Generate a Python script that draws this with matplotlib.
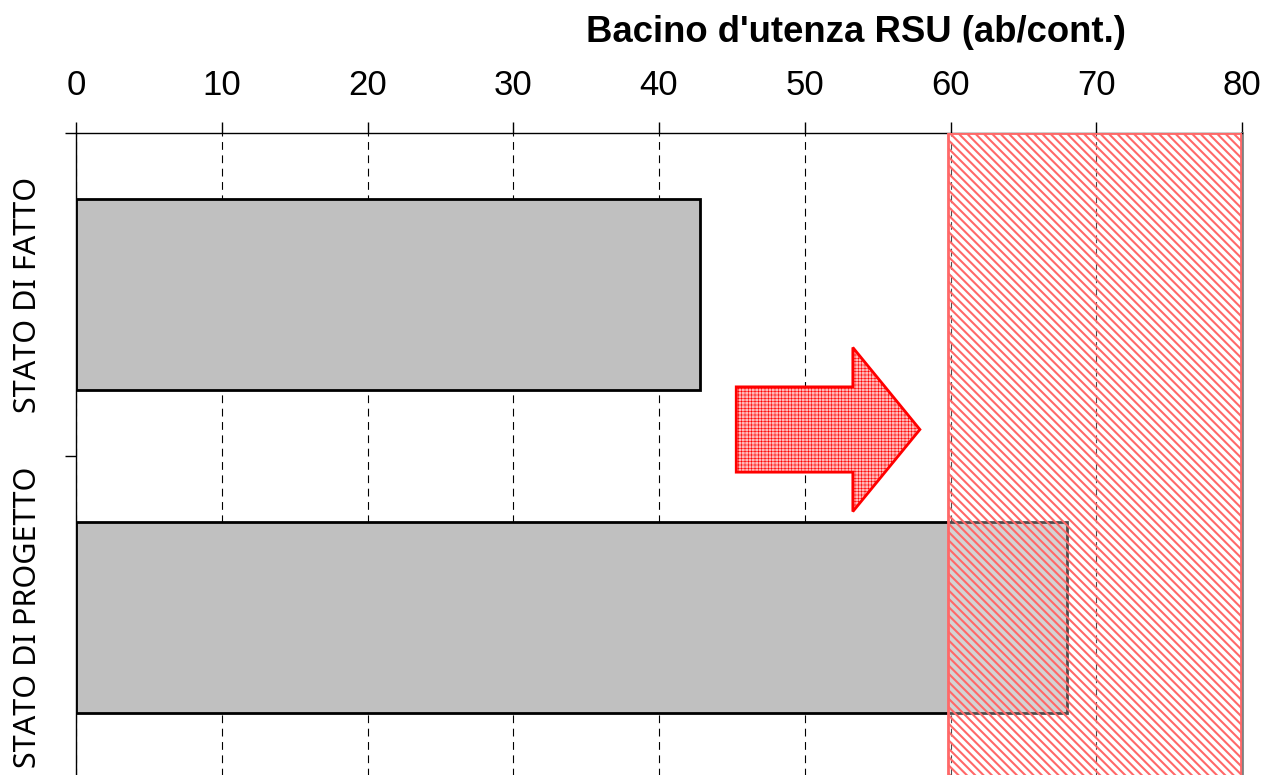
import matplotlib.pyplot as plt
from matplotlib.patches import FancyArrow, Rectangle

"""Bacino d'utenza RSU: stato di fatto vs stato di progetto"""

categories = ['STATO DI FATTO', 'STATO DI PROGETTO']
values = [42.8, 68.0]
x_ticks = [0, 10, 20, 30, 40, 50, 60, 70, 80]
target_range = [59.8, 79.9]   # red hatched band
arrow_from, arrow_to = 45.3, 57.9
arrow_y = 0.418

fig = plt.figure(figsize=(12.67, 7.75), dpi=100)
ax = fig.add_axes([76 / 1267, -4 / 775, 1166 / 1267, 646 / 775])

ypos = list(range(len(categories)))
ax.barh(ypos, values, height=0.59, color='#c0c0c0', edgecolor='black',
        linewidth=2, zorder=2)

# red hatched band, drawn over the bars
band = Rectangle((target_range[0], -0.5), target_range[1] - target_range[0], 2.0,
                 facecolor=(1, 1, 1, 0.3), edgecolor='#ff6868', linewidth=2,
                 hatch='\\\\\\\\', zorder=3)
if hasattr(band, 'set_hatch_linewidth'):
    band.set_hatch_linewidth(1.5)
ax.add_patch(band)

# arrow
arr = FancyArrow(arrow_from, arrow_y, arrow_to - arrow_from, 0, width=0.264,
                 head_width=0.508, head_length=4.6, length_includes_head=True,
                 facecolor='#ffb8b8', edgecolor='red', linewidth=2,
                 hatch='+++++', zorder=4)
if hasattr(arr, 'set_hatch_linewidth'):
    arr.set_hatch_linewidth(0.4)
ax.add_patch(arr)

ax.set_xlim(0, 80)
ax.set_ylim(1.5, -0.5)

ax.xaxis.tick_top()
ax.set_xticks(x_ticks)
ax.tick_params(axis='x', direction='out', length=8, width=1, pad=14,
               labelsize=25)
for lab in ax.get_xticklabels():
    lab.set_fontfamily('Liberation Sans')

ax.set_yticks(ypos)
ax.set_yticklabels(categories, rotation=90, va='center', fontsize=22,
                   fontfamily='Noto Sans')
ax.tick_params(axis='y', which='major', length=0, pad=24)
ax.set_yticks([-0.5, 0.5, 1.5], minor=True)
ax.tick_params(axis='y', which='minor', length=8, width=1)

ax.grid(axis='x', color='black', linestyle=(0, (7, 5)), linewidth=0.8, zorder=0)
ax.set_axisbelow(True)

ax.spines['bottom'].set_visible(False)
ax.spines['right'].set_color('#808080')
ax.spines['right'].set_linewidth(2)
ax.spines['top'].set_linewidth(1)
ax.spines['left'].set_linewidth(1)

fig.text(856 / 1267, 1 - 32 / 775, "Bacino d'utenza RSU (ab/cont.)",
         ha='center', va='center', fontsize=26.3, fontweight='bold',
         fontfamily='Liberation Sans')

fig.savefig('out.png', dpi=100)
